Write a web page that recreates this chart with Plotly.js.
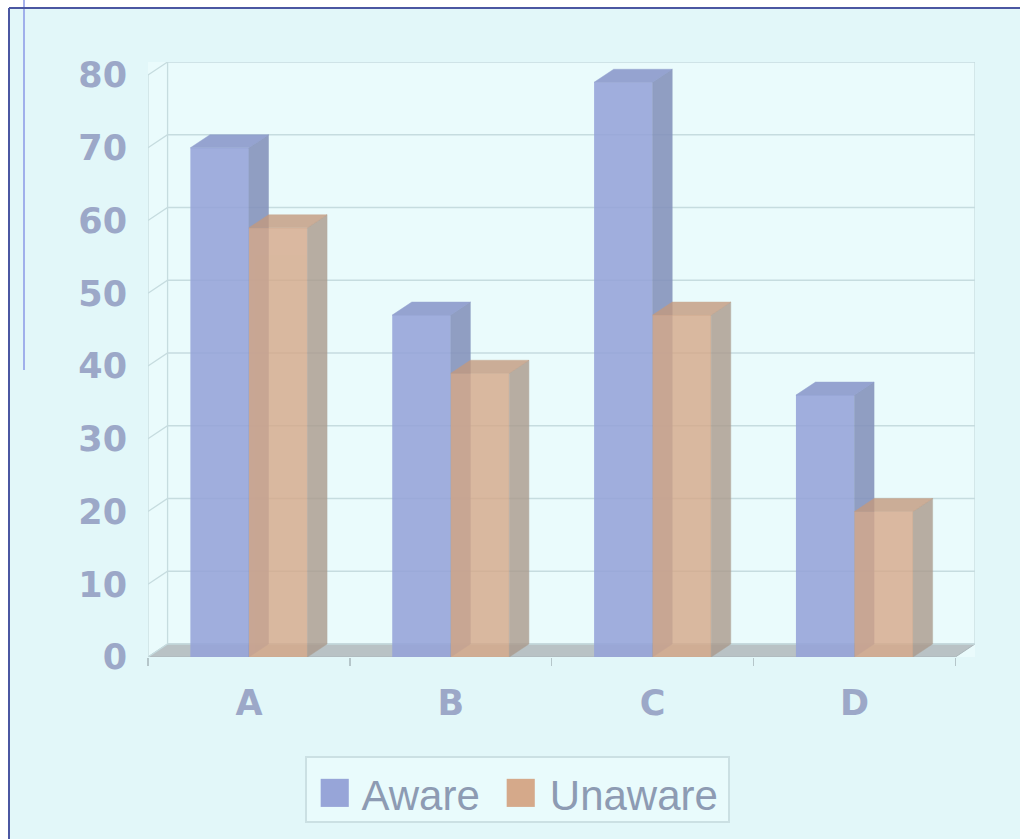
<!DOCTYPE html>
<html><head><meta charset="utf-8">
<script src="https://cdn.plot.ly/plotly-3.0.1.min.js"></script>
<style>html,body{margin:0;padding:0;background:#fff}#chart{width:1020px;height:839px}</style>
</head><body><div id="chart"></div>
<script>
const categories = ['A', 'B', 'C', 'D'];
const aware = [70, 47, 79, 36];
const unaware = [59, 39, 47, 20];
const yTicks = [0, 10, 20, 30, 40, 50, 60, 70, 80];
const seriesNames = ['Aware', 'Unaware'];

// geometry (styles, not data)
const DX = 0.097, DY = 1.79, BW = 0.29;
const X0 = -0.5, X1 = categories.length - 0.5;
const YMAX = yTicks[yTicks.length - 1];
const xs = categories.map((c, i) => i);
const W = 1020, H = 839, ML = 148, MR = 45, MT = 62, MB = 182;
const PW = W - ML - MR, PH = H - MT - MB;
const px = p => (p - ML) / PW, py = p => (H - MB - p) / PH;

function faces(vals, off) {
  const side = {x: [], y: []}, top = {x: [], y: []};
  vals.forEach((v, i) => {
    const l = i + off, r = l + BW;
    side.x.push(r, r + DX, r + DX, r, r, null); side.y.push(0, DY, v + DY, v, 0, null);
    top.x.push(l, r, r + DX, l + DX, l, null); top.y.push(v, v, v + DY, v + DY, v, null);
  });
  return {side, top};
}

const traces = [];
// floor
traces.push({type: 'scatter', mode: 'lines', x: [X0, X1, X1 + DX, X0 + DX, X0], y: [0, 0, DY, DY, 0],
  fill: 'toself', fillcolor: '#b9c2c5', line: {color: '#a9b4b8', width: 1}, hoverinfo: 'skip', showlegend: false, zorder: 0});
// back-wall gridlines + diagonals
const gx = [], gy = [];
yTicks.forEach(v => { gx.push(X0, X0 + DX, X1 + DX, null); gy.push(v, v + DY, v + DY, null); });
// wall edges and front axis
gx.push(X0 + DX, X0 + DX, null, X1 + DX, X1 + DX, null, X0, X0, null);
gy.push(DY, YMAX + DY, null, DY, YMAX + DY, null, 0, YMAX, null);
traces.push({type: 'scatter', mode: 'lines', x: gx, y: gy, line: {color: '#c6dcdf', width: 1.3},
  hoverinfo: 'skip', showlegend: false, zorder: 0});

const styles = [
  {vals: aware, off: -BW, front: '#95a3d8', side: '#8492bb', top: '#8a98ca', op: 0.88, z: 1},
  {vals: unaware, off: 0, front: '#d6a888', side: '#ab9a8c', top: '#c49a7e', op: 0.8, z: 2}
];
styles.forEach((s, k) => {
  const f = faces(s.vals, s.off);
  traces.push({type: 'bar', x: xs, y: s.vals, width: BW, offset: s.off, name: seriesNames[k],
    marker: {color: s.front, line: {width: 0}}, opacity: s.op, showlegend: false, zorder: s.z});
  traces.push({type: 'scatter', mode: 'lines', x: f.side.x, y: f.side.y, fill: 'toself', fillcolor: s.side,
    line: {color: s.side, width: 0.5}, opacity: s.op, hoverinfo: 'skip', showlegend: false, zorder: s.z});
  traces.push({type: 'scatter', mode: 'lines', x: f.top.x, y: f.top.y, fill: 'toself', fillcolor: s.top,
    line: {color: s.top, width: 0.5}, opacity: s.op, hoverinfo: 'skip', showlegend: false, zorder: s.z});
});

const legendText = '<span style="color:#97a5d8;font-size:58px">■</span> ' + seriesNames[0] +
  '&nbsp; <span style="color:#d5a98a;font-size:58px">■</span> ' + seriesNames[1];

const layout = {
  width: W, height: H,
  margin: {l: ML, r: MR, t: MT, b: MB, pad: 0},
  paper_bgcolor: '#e2f7f9', plot_bgcolor: '#eafbfc',
  showlegend: false,
  xaxis: {range: [X0, X1 + DX], tickvals: xs, ticktext: categories, ticks: '', showgrid: false,
    zeroline: false, showline: false, fixedrange: true,
    tickfont: {family: 'DejaVu Sans', size: 35, color: '#9ca8c8', weight: 'bold'}, ticklabelstandoff: 22,
    minor: {tickvals: [-0.5, 0.5, 1.5, 2.5, 3.5], ticks: 'outside', ticklen: 8, tickcolor: '#b5c6ca', tickwidth: 1.3, showgrid: false}},
  yaxis: {range: [0, YMAX + DY], tickvals: yTicks, ticks: '', showgrid: false, zeroline: false, showline: false,
    fixedrange: true, tickfont: {family: 'DejaVu Sans', size: 35, color: '#9ca8c8', weight: 'bold'}, ticklabelstandoff: 20},
  annotations: [{xref: 'paper', yref: 'paper', x: px(517.5), y: py(789), xanchor: 'center', yanchor: 'middle',
    text: legendText, showarrow: false, font: {family: 'Liberation Sans', size: 42, color: '#8d9bb3'},
    width: 421, height: 63, align: 'center', valign: 'middle',
    bgcolor: '#e9fbfc', bordercolor: '#cbe0e3', borderwidth: 2, borderpad: 0}],
  shapes: [
    {type: 'rect', xref: 'paper', yref: 'paper', x0: px(0), x1: px(9), y0: py(0), y1: py(H), fillcolor: '#ffffff', line: {width: 0}, layer: 'below'},
    {type: 'rect', xref: 'paper', yref: 'paper', x0: px(0), x1: px(W), y0: py(0), y1: py(8), fillcolor: '#ffffff', line: {width: 0}, layer: 'below'},
    {type: 'line', xref: 'paper', yref: 'paper', x0: px(9), x1: px(9), y0: py(8), y1: py(H), line: {color: '#4b57a2', width: 2}},
    {type: 'line', xref: 'paper', yref: 'paper', x0: px(9), x1: px(W), y0: py(8), y1: py(8), line: {color: '#4b57a2', width: 2}},
    {type: 'line', xref: 'paper', yref: 'paper', x0: px(24), x1: px(24), y0: py(0), y1: py(370), line: {color: '#8a98e6', width: 1.5}, layer: 'below'}
  ]
};

Plotly.newPlot('chart', traces, layout, {displayModeBar: false, staticPlot: true});
</script>
</body></html>
